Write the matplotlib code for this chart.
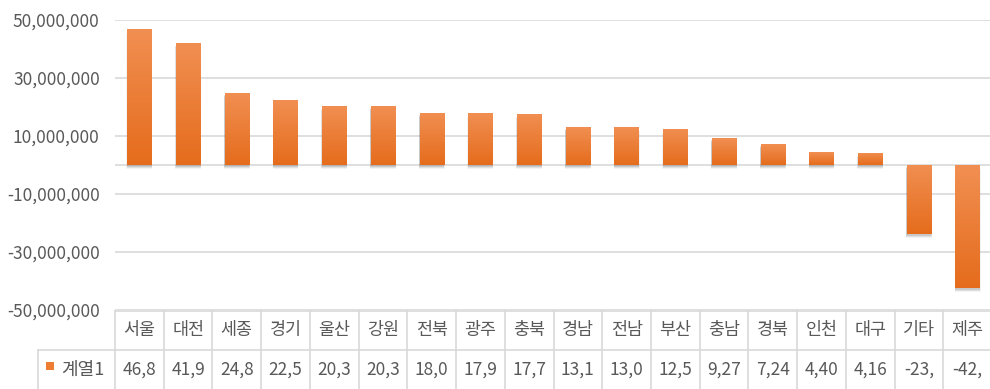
import numpy as np
import matplotlib
matplotlib.use("Agg")
import matplotlib.pyplot as plt
from matplotlib.colors import LinearSegmentedColormap
from matplotlib.lines import Line2D
from matplotlib.patches import Rectangle
from matplotlib.transforms import blended_transform_factory
from matplotlib.ticker import FuncFormatter

plt.rcParams['font.family'] = ['Noto Sans CJK KR', 'DejaVu Sans']

categories = ['서울', '대전', '세종', '경기', '울산', '강원', '전북', '광주', '충북',
              '경남', '전남', '부산', '충남', '경북', '인천', '대구', '기타', '제주']
values = [46_800_000, 41_900_000, 24_800_000, 22_500_000, 20_300_000, 20_300_000,
          18_000_000, 17_900_000, 17_700_000, 13_100_000, 13_000_000, 12_500_000,
          9_270_000, 7_240_000, 4_400_000, 4_160_000, -23_800_000, -42_300_000]
series_name = '계열1'
yticks = [-50_000_000, -30_000_000, -10_000_000, 10_000_000, 30_000_000, 50_000_000]

W, H = 990, 389
TXT = '#595959'
GRID = '#d9d9d9'

fig = plt.figure(figsize=(W / 100, H / 100), dpi=100)
ax = fig.add_axes([115 / W, (H - 310) / H, 877 / W, 290 / H])

x = np.arange(len(categories))
bw = 0.5
cmap = LinearSegmentedColormap.from_list('og', ['#f18f52', '#e56c1c'])
grad = np.linspace(0, 1, 256).reshape(-1, 1)

px = 100_000_000 / 290  # data units per pixel

# shadows
for xi, v in zip(x, values):
    lo, hi = min(0, v), max(0, v)
    for k, a in [(4, 0.06), (3, 0.10), (2, 0.14)]:
        ax.add_patch(Rectangle((xi - bw / 2 - 0.004 * k, lo - k * px), bw + 0.008 * k, hi - lo,
                               facecolor='#404040', alpha=a, lw=0, zorder=2))

bars = ax.bar(x, values, width=bw, color='#ec7a33', zorder=3, linewidth=0)
for b, xi, v in zip(bars, x, values):
    lo, hi = min(0, v), max(0, v)
    im = ax.imshow(grad, extent=[xi - bw / 2, xi + bw / 2, lo, hi], aspect='auto',
                   cmap=cmap, origin='upper', zorder=4, interpolation='bilinear')
    im.set_clip_path(b)

ax.set_xlim(-0.5, len(categories) - 0.5)
ax.set_ylim(-50_000_000, 50_000_000)
ax.set_yticks(yticks)
ax.yaxis.set_major_formatter(FuncFormatter(lambda v, p: f'{int(v):,}'))
ax.set_xticks([])
for s in ax.spines.values():
    s.set_visible(False)
ax.tick_params(axis='y', length=0, pad=11, labelsize=12.5, labelcolor=TXT)
for t in yticks:
    ax.axhline(t, color=GRID, lw=1.2, zorder=1)
ax.axhline(0, color=GRID, lw=1.2, zorder=1)

# data table
tr = blended_transform_factory(ax.transData, fig.transFigure)
def fy(p):
    return 1 - p / H

y_top, y_mid, y_bot = 311, 350, 392
n = len(categories)
fig.add_artist(Line2D([-0.5, n - 0.5], [fy(y_top)] * 2, transform=tr, color=GRID, lw=1.2))
fig.add_artist(Line2D([-0.5, n - 0.5], [fy(y_mid)] * 2, transform=tr, color=GRID, lw=1.2))
fig.add_artist(Line2D([38 / W, 115 / W], [fy(y_mid)] * 2, transform=fig.transFigure, color=GRID, lw=1.2))
fig.add_artist(Line2D([38 / W, 38 / W], [fy(y_mid), fy(y_bot)], transform=fig.transFigure, color=GRID, lw=1.2))
for i in range(n + 1):
    fig.add_artist(Line2D([i - 0.5, i - 0.5], [fy(y_top), fy(y_bot)], transform=tr, color=GRID, lw=1.2))

for xi, c, v in zip(x, categories, values):
    fig.text(xi, fy(330), c, transform=tr, ha='center', va='center', fontsize=12.5, color=TXT)
    fig.text(xi, fy(370), f'{v:,}'[:4], transform=tr, ha='center', va='center', fontsize=12.5, color=TXT)

fig.add_artist(Rectangle((46 / W, fy(370)), 8 / W, 8 / H, transform=fig.transFigure,
                         facecolor='#ed7d31', lw=0))
fig.text(61 / W, fy(370), series_name, ha='left', va='center', fontsize=13, color=TXT)

fig.savefig('out.png', dpi=100)
